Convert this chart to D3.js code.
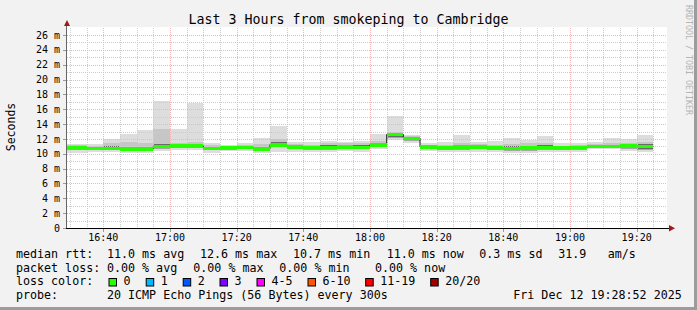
<!DOCTYPE html>
<html>
<head>
<meta charset="utf-8">
<script src="https://cdn.jsdelivr.net/npm/d3@7/dist/d3.min.js"></script>
<style>
html, body { margin: 0; padding: 0; background: #f2f2f2; }
svg { display: block; }
text { font-family: "DejaVu Sans Mono", monospace; fill: #000; }
</style>
</head>
<body>
<svg id="chart"></svg>
<script>
// 5 minute buckets (start time of each step)
const buckets = ['16:30', '16:35', '16:40', '16:45', '16:50', '16:55',
    '17:00', '17:05', '17:10', '17:15', '17:20', '17:25', '17:30', '17:35', '17:40', '17:45', '17:50', '17:55',
    '18:00', '18:05', '18:10', '18:15', '18:20', '18:25', '18:30', '18:35', '18:40', '18:45', '18:50', '18:55',
    '19:00', '19:05', '19:10', '19:15', '19:20']

// rtt in ms
const median = [10.8, 10.75, 10.75, 10.7, 10.7, 11.0,
    11.05, 11.05, 10.75, 10.8, 10.9, 10.7, 11.25, 10.95, 10.85, 10.85, 10.95, 10.9,
    11.25, 12.6, 12.1, 10.95, 10.8, 10.95, 10.95, 10.8, 10.75, 10.8, 10.85, 10.8,
    10.85, 11.0, 11.0, 11.05, 11.0]
const maxRtt = [11.3, 11.3, 12.0, 12.7, 13.2, 17.1,
    13.3, 16.9, 11.5, 11.2, 11.4, 12.1, 13.75, 11.55, 11.55, 11.7, 11.55, 11.75,
    12.7, 15.1, 12.5, 11.4, 11.6, 12.55, 11.55, 11.7, 12.1, 11.85, 12.4, 11.4,
    11.4, 11.6, 12.1, 11.95, 12.5]
const upper = [11.15, 11.1, 11.4, 11.6, 11.4, 13.3,
    11.5, 11.6, 11.15, 11.1, 11.2, 11.3, 12.0, 11.3, 11.25, 11.4, 11.4, 11.4,
    11.7, 13.0, 12.35, 11.2, 11.2, 11.5, 11.3, 11.2, 11.3, 11.45, 11.4, 11.1,
    11.15, 11.3, 11.5, 11.45, 11.6]
const lower = [10.45, 10.45, 10.45, 10.4, 10.4, 10.7,
    10.75, 10.75, 10.45, 10.55, 10.6, 10.4, 10.85, 10.6, 10.55, 10.55, 10.65, 10.6,
    10.9, 12.1, 11.7, 10.6, 10.5, 10.55, 10.6, 10.45, 10.4, 10.4, 10.55, 10.5,
    10.55, 10.8, 10.8, 10.7, 10.55]
const minRtt = [10.1, 10.2, 10.2, 10.15, 10.15, 10.4,
    10.45, 10.45, 10.15, 10.35, 10.35, 10.15, 10.3, 10.2, 10.3, 10.3, 10.4, 10.3,
    10.6, 11.85, 11.4, 10.4, 10.3, 10.2, 10.3, 10.2, 10.15, 10.15, 10.3, 10.3,
    10.3, 10.65, 10.65, 10.4, 10.2]

const yMajor = [0, 2, 4, 6, 8, 10, 12, 14, 16, 18, 20, 22, 24, 26]
const rttStats = ['11.0 ms avg', '12.6 ms max', '10.7 ms min', '11.0 ms now', '0.3 ms sd', '31.9', 'am/s']
const lossStats = ['0.00 % avg', '0.00 % max', '0.00 % min', '0.00 % now']
const lossLabels = ['0', '1', '2', '3', '4-5', '6-10', '11-19', '20/20']
const lossColors = ['#26ff00', '#00b8ff', '#0059ff', '#7e00ff', '#ff00ff', '#ff5500', '#ff0000', '#a10000']

const W = 697
const H = 310
const parse = d3.utcParse('%Y-%m-%d %H:%M:%S')
const day = '2025-12-12 '
const tStart = parse(day + '16:29:06')
const tEnd = parse(day + '19:29:06')
const step = 5 * 60 * 1000

const x = d3.scaleUtc().domain([tStart, tEnd]).range([67, 667])
const y = d3.scaleLinear().domain([0, 26.95]).range([228, 28])

const data = buckets.map((b, i) => {
    const t0 = parse(day + b + ':00')
    return {
        t0: t0,
        t1: new Date(+t0 + step),
        med: median[i], max: maxRtt[i], up: upper[i], lo: lower[i], min: minRtt[i]
    }
})

const svg = d3.select('#chart').attr('width', W).attr('height', H)

// background + shade border
svg.append('rect').attr('width', W).attr('height', H).attr('fill', '#f2f2f2')
svg.append('rect').attr('x', W - 3).attr('y', 0).attr('width', 3).attr('height', H).attr('fill', '#9c9c9c')
svg.append('rect').attr('x', 0).attr('y', H - 3).attr('width', W).attr('height', 3).attr('fill', '#9c9c9c')

// canvas
svg.append('rect').attr('x', 67).attr('y', 27).attr('width', 600).attr('height', 201).attr('fill', '#ffffff')

const px0 = (d, i) => i === 0 ? x.range()[0] : x(d.t0)
const pw = (d, i) => x(d.t1) - px0(d, i)

function band(cls, lo, hi, color) {
    svg.append('g').attr('shape-rendering', 'crispEdges')
        .selectAll('rect.' + cls)
        .data(data)
        .join('rect')
        .attr('class', cls)
        .attr('x', px0)
        .attr('width', pw)
        .attr('y', (d) => y(hi(d)))
        .attr('height', (d) => y(lo(d)) - y(hi(d)))
        .attr('fill', color)
}

// smoke, lighter outside, darker toward the median
band('s1', (d) => d.min, (d) => d.max, '#dddddd')
band('s2', (d) => d.lo, (d) => d.up, '#c6c6c6')
band('s3', (d) => d.lo, (d) => d.med, '#a6a6a6')
band('s4', (d) => d.med - Math.min(0.3, (d.med - d.lo) * 0.7),
    (d) => d.med + Math.min(0.28, (d.up - d.med) * 0.5), '#6a6a6a')

// grid (drawn over the smoke like rrdtool does)
const grid = svg.append('g').attr('shape-rendering', 'crispEdges').attr('stroke-dasharray', '1,1')
const minorT = d3.utcMinute.every(5).range(tStart, tEnd).filter((t) => t.getUTCMinutes() % 20 !== 0)
const majorT = d3.utcMinute.every(20).range(tStart, tEnd)
grid.selectAll('line.vmin').data(minorT).join('line')
    .attr('x1', (d) => Math.round(x(d)) + 0.5).attr('x2', (d) => Math.round(x(d)) + 0.5)
    .attr('y1', 28).attr('y2', 228).attr('stroke', '#cccccc')
const minorV = d3.range(1, 27, 2)
grid.selectAll('line.hmin').data(minorV).join('line')
    .attr('x1', 67).attr('x2', 667)
    .attr('y1', (d) => Math.round(y(d)) + 0.5).attr('y2', (d) => Math.round(y(d)) + 0.5)
    .attr('stroke', '#cccccc')
grid.selectAll('line.vmaj').data(majorT).join('line')
    .attr('x1', (d) => Math.round(x(d)) + 0.5).attr('x2', (d) => Math.round(x(d)) + 0.5)
    .attr('y1', 28).attr('y2', 228).attr('stroke', '#f4b4b4')
grid.selectAll('line.hmaj').data(yMajor.filter((v) => v > 0)).join('line')
    .attr('x1', 67).attr('x2', 667)
    .attr('y1', (d) => Math.round(y(d)) + 0.5).attr('y2', (d) => Math.round(y(d)) + 0.5)
    .attr('stroke', '#f4b4b4')

// median: dark step line under a loss coloured band
const stepPts = data.map((d, i) => [px0(d, i), y(d.med)])
const last = data[data.length - 1]
stepPts.push([x(last.t1), y(last.med)])
svg.append('path')
    .attr('d', d3.line().curve(d3.curveStepAfter)(stepPts))
    .attr('fill', 'none').attr('stroke', '#202020').attr('stroke-width', 1)

svg.append('g').attr('shape-rendering', 'crispEdges')
    .selectAll('rect').data(data).join('rect')
    .attr('x', px0).attr('width', pw)
    .attr('y', (d) => y(d.med) - 1.5).attr('height', 3.5)
    .attr('fill', lossColors[0])

// axes
const ax = svg.append('g').attr('shape-rendering', 'crispEdges')
ax.append('line').attr('x1', 66.5).attr('x2', 66.5).attr('y1', 26).attr('y2', 229).attr('stroke', '#666')
ax.append('line').attr('x1', 64).attr('x2', 670).attr('y1', 228.5).attr('y2', 228.5).attr('stroke', '#000').attr('stroke-width', 1.5)
ax.selectAll('line.yt').data(yMajor).join('line')
    .attr('x1', 63).attr('x2', 66).attr('y1', (d) => Math.round(y(d)) + 0.5).attr('y2', (d) => Math.round(y(d)) + 0.5)
    .attr('stroke', '#999')
ax.selectAll('line.xt').data(majorT).join('line')
    .attr('x1', (d) => Math.round(x(d)) + 0.5).attr('x2', (d) => Math.round(x(d)) + 0.5)
    .attr('y1', 229).attr('y2', 232).attr('stroke', '#999')

svg.append('path').attr('d', 'M64,26L70,26L67,20Z').attr('fill', '#a01818')
svg.append('path').attr('d', 'M669,225L669,231.5L675,228.2Z').attr('fill', '#a01818')

// tick labels
svg.append('g').selectAll('text').data(yMajor).join('text')
    .attr('x', 60).attr('y', (d) => y(d)).attr('dy', '0.36em')
    .attr('text-anchor', 'end').style('font-size', '10px')
    .text((d) => d === 0 ? '0' : d + ' m')
svg.append('g').selectAll('text').data(majorT).join('text')
    .attr('x', (d) => x(d)).attr('y', 241)
    .attr('text-anchor', 'middle').style('font-size', '10px')
    .text(d3.utcFormat('%H:%M'))

// titles
svg.append('text').attr('x', 348.5).attr('y', 24).attr('text-anchor', 'middle')
    .style('font-size', '13.3px').text('Last 3 Hours from smokeping to Cambridge')
svg.append('text').attr('transform', 'translate(15,127) rotate(-90)').attr('text-anchor', 'middle')
    .style('font-size', '11.5px').text('Seconds')
svg.append('text').attr('transform', 'translate(686,5) rotate(90)')
    .style('font-size', '8.3px').style('fill', '#b4b4b4').text('RRDTOOL / TOBI OETIKER')

// legend
const lg = svg.append('g').style('font-size', '11.66px').attr('xml:space', 'preserve')
function put(str, px, py) {
    lg.append('text').attr('x', px).attr('y', py).text(str)
}
put('median rtt:', 16, 258)
const rttX = [107, 200, 293, 386.7, 479.3, 558.3, 607.7]
rttStats.forEach((s, i) => put(s, rttX[i], 258))
put('packet loss:', 16, 271.5)
const lossX = [107, 193.3, 279.3, 375]
lossStats.forEach((s, i) => put(s, lossX[i], 271.5))
put('loss color:', 16, 285)
const boxX = [108.5, 145.7, 182.7, 219.5, 256.5, 307.5, 365.2, 430.2]
lossLabels.forEach((l, i) => {
    lg.append('rect').attr('x', boxX[i] + 0.5).attr('y', 278.5).attr('width', 7.5).attr('height', 7.5)
        .attr('fill', lossColors[i]).attr('stroke', '#000').attr('stroke-width', 1)
    put(l, boxX[i] + 15, 285)
})
put('probe:', 16, 298.5)
put('20 ICMP Echo Pings (56 Bytes) every 300s', 107, 298.5)
put('Fri Dec 12 19:28:52 2025', 513.3, 298.5)
</script>
</body>
</html>
